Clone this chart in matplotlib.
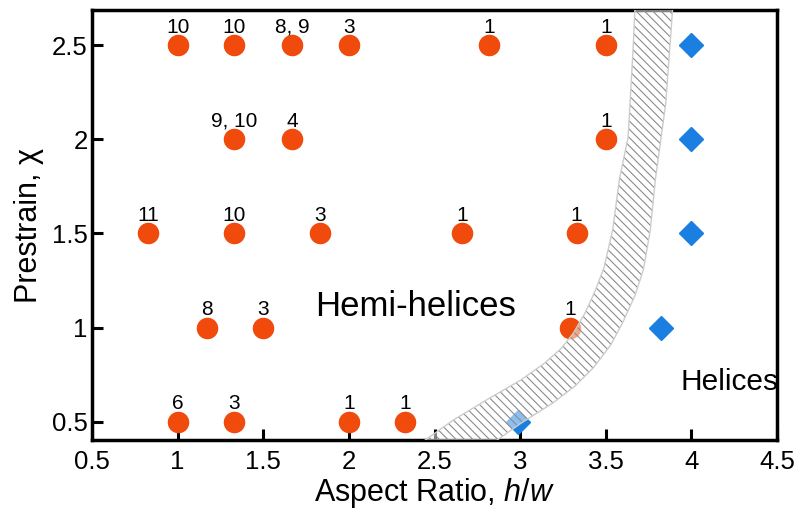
import numpy as np
import matplotlib
matplotlib.use('Agg')
import matplotlib.pyplot as plt

# hemi-helices (circles) and helices (diamonds)
hemi_x = [1, 1.33, 1.67, 2, 2.82, 3.5,
          1.33, 1.67, 3.5,
          0.83, 1.33, 1.83, 2.66, 3.33,
          1.17, 1.5, 3.29,
          1, 1.33, 2, 2.33]
hemi_y = [2.5] * 6 + [2] * 3 + [1.5] * 5 + [1] * 3 + [0.5] * 4
hemi_lbl = ['10', '10', '8, 9', '3', '1', '1',
            '9, 10', '4', '1',
            '11', '10', '3', '1', '1',
            '8', '3', '1',
            '6', '3', '1', '1']
hel_x = [4, 4, 4, 3.82, 2.99]
hel_y = [2.5, 2, 1.5, 1, 0.5]

# transition band, left and right boundaries
left_x = [2.44, 2.61, 2.81, 3.00, 3.14, 3.24, 3.31, 3.38, 3.44, 3.49, 3.54, 3.58, 3.63, 3.66, 3.67]
left_y = [0.40, 0.51, 0.62, 0.72, 0.81, 0.89, 0.97, 1.08, 1.20, 1.32, 1.52, 1.79, 2.01, 2.49, 2.69]
right_x = [2.86, 3.00, 3.19, 3.32, 3.43, 3.53, 3.60, 3.67, 3.72, 3.76, 3.79, 3.85, 3.89]
right_y = [0.40, 0.49, 0.60, 0.69, 0.79, 0.91, 1.03, 1.17, 1.31, 1.52, 1.79, 2.19, 2.69]

plt.rcParams['font.family'] = ['Liberation Sans', 'DejaVu Sans']
plt.rcParams['mathtext.fontset'] = 'custom'
plt.rcParams['mathtext.it'] = 'Liberation Sans:italic'
plt.rcParams['mathtext.rm'] = 'Liberation Sans'
plt.rcParams['hatch.linewidth'] = 0.8

fig = plt.figure(figsize=(7.97, 5.14), dpi=100)
ax = fig.add_axes([0.1154, 0.144, 0.8596, 0.8365])

ax.plot(hemi_x, hemi_y, 'o', color='#f04a0c', markersize=14.5, zorder=3, linestyle='none')
ax.plot(hel_x, hel_y, 'D', color='#1a7fe0', markersize=12, zorder=3, linestyle='none')

bx = np.r_[left_x, right_x[::-1]]
by = np.r_[left_y, right_y[::-1]]
# hatch takes the edge colour, so outline is drawn separately
ax.fill(bx, by, facecolor=(1, 1, 1, 0.5), edgecolor='#8c8c8c', hatch='\\\\\\\\',
        linewidth=0, zorder=4)
ax.fill(bx, by, facecolor='none', edgecolor='#cccccc', linewidth=1.0, zorder=4.1)

for x, y, t in zip(hemi_x, hemi_y, hemi_lbl):
    ax.annotate(t, (x, y), xytext=(0, 9), textcoords='offset points',
                ha='center', va='baseline', fontsize=15)

ax.text(2.39, 1.11, 'Hemi-helices', fontsize=25, ha='center', va='center')
ax.text(4.22, 0.71, 'Helices', fontsize=21.5, ha='center', va='center')

ax.set_xlim(0.5, 4.5)
ax.set_ylim(0.404, 2.686)
ax.set_xticks(np.arange(0.5, 4.51, 0.5))
ax.set_xticklabels(['0.5', '1', '1.5', '2', '2.5', '3', '3.5', '4', '4.5'])
ax.set_yticks([0.5, 1, 1.5, 2, 2.5])
ax.set_yticklabels(['0.5', '1', '1.5', '2', '2.5'])
ax.tick_params(direction='in', length=8, width=2.2, labelsize=18.5)
ax.tick_params(axis='x', pad=7)
ax.tick_params(axis='y', pad=3)
for s in ax.spines.values():
    s.set_linewidth(2.5)
ax.set_xlabel(r'Aspect Ratio, $h/w$', fontsize=22, labelpad=2)
ax.set_ylabel('Prestrain, χ', fontsize=22, labelpad=6)

fig.savefig('out.png', dpi=100)
